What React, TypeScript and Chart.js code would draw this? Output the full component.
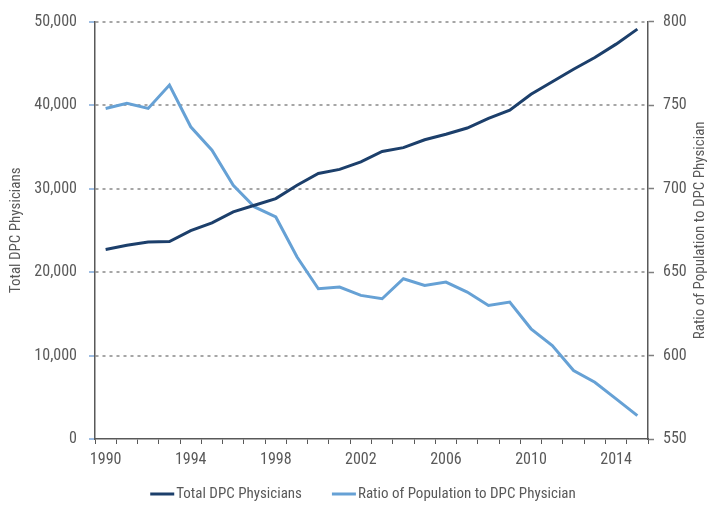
import React, { useEffect, useRef } from "react";
import { Chart, registerables } from "chart.js";

Chart.register(...registerables);

const years = [
  "1990", "1991", "1992", "1993", "1994", "1995", "1996", "1997", "1998", "1999",
  "2000", "2001", "2002", "2003", "2004", "2005", "2006", "2007", "2008", "2009",
  "2010", "2011", "2012", "2013", "2014", "2015",
];
const xTickLabels = ["1990", "1994", "1998", "2002", "2006", "2010", "2014"];
const totalDPC = [
  22700, 23200, 23600, 23650, 24950, 25900, 27200, 28000, 28800, 30400,
  31800, 32300, 33200, 34450, 34900, 35850, 36500, 37250, 38400, 39400,
  41300, 42800, 44300, 45700, 47300, 49100,
];
const ratio = [
  748, 751, 748, 762, 737, 723, 702, 689, 683, 659,
  640, 641, 636, 634, 646, 642, 644, 638, 630, 632,
  616, 606, 591, 584, 574, 564,
];
const seriesNames = ["Total DPC Physicians", "Ratio of Population to DPC Physician"];
const leftTitle = "Total DPC Physicians";
const rightTitle = "Ratio of Population to DPC Physician";

const FONT = "'Roboto Condensed', 'DejaVu Sans Condensed', sans-serif";
const TEXT = "#595959";
const DARK = "#1c3f6b";
const LIGHT = "#66a1d5";

const decorPlugin = {
  id: "decor",
  afterDraw(chart: any) {
    const ctx = chart.ctx;
    const area = chart.chartArea;
    ctx.save();
    // right axis title, reading bottom to top
    ctx.save();
    ctx.translate(700, (area.top + area.bottom) / 2);
    ctx.rotate(-Math.PI / 2);
    ctx.font = `15px ${FONT}`;
    ctx.fillStyle = TEXT;
    ctx.textAlign = "center";
    ctx.textBaseline = "middle";
    ctx.fillText(rightTitle, 0, 0);
    ctx.restore();

    // legend
    const ds = chart.data.datasets;
    ctx.font = `15px ${FONT}`;
    const marker = 24;
    const gap = 2;
    const spacing = 30;
    const widths = ds.map((d: any) => ctx.measureText(d.label).width);
    const itemW = widths.map((w: number) => marker + gap + w);
    const total = itemW.reduce((a: number, b: number) => a + b, 0) + spacing * (ds.length - 1);
    let x = 363 - total / 2;
    const y = 494;
    ds.forEach((d: any, i: number) => {
      ctx.strokeStyle = d.borderColor;
      ctx.lineWidth = 3;
      ctx.beginPath();
      ctx.moveTo(x, y);
      ctx.lineTo(x + marker, y);
      ctx.stroke();
      ctx.fillStyle = TEXT;
      ctx.textAlign = "left";
      ctx.textBaseline = "middle";
      ctx.fillText(d.label, x + marker + gap, y);
      x += itemW[i] + spacing;
    });
    ctx.restore();
  },
};

export default function App() {
  const ref = useRef<HTMLCanvasElement>(null);
  useEffect(() => {
    if (!ref.current) return;
    const chart = new Chart(ref.current, {
      type: "line",
      data: {
        labels: years,
        datasets: [
          {
            label: seriesNames[0],
            data: totalDPC,
            borderColor: DARK,
            backgroundColor: DARK,
            borderWidth: 3,
            pointRadius: 0,
            tension: 0,
            yAxisID: "y",
          },
          {
            label: seriesNames[1],
            data: ratio,
            borderColor: LIGHT,
            backgroundColor: LIGHT,
            borderWidth: 3,
            pointRadius: 0,
            tension: 0,
            yAxisID: "y1",
          },
        ],
      },
      options: {
        animation: false,
        responsive: true,
        maintainAspectRatio: false,
        layout: { padding: { left: 0, right: 0, top: 18, bottom: 36 } },
        plugins: {
          tooltip: { enabled: false },
          legend: { display: false },
        },
        scales: {
          x: {
            offset: true,
            grid: {
              display: true,
              offset: true,
              drawOnChartArea: false,
              tickLength: 5,
              color: TEXT,
              lineWidth: 1,
            },
            border: { display: true, color: TEXT, width: 1.5 },
            ticks: {
              autoSkip: false,
              maxRotation: 0,
              padding: 6,
              color: TEXT,
              font: { family: FONT, size: 16 },
              callback: function (this: any, value: any, index: number) {
                const lbl = years[index];
                return xTickLabels.includes(lbl) ? lbl : "";
              },
            },
            afterFit: (s: any) => {
              s.height = 31;
            },
          },
          y: {
            position: "left",
            min: 0,
            max: 50000,
            ticks: {
              stepSize: 10000,
              padding: 12,
              color: TEXT,
              font: { family: FONT, size: 16 },
              callback: (v: any) => Number(v).toLocaleString("en-US"),
            },
            grid: {
              color: (c: any) => (c.tick && c.tick.value === 0 ? "rgba(0,0,0,0)" : "#a6a6a6"),
              lineWidth: 2,
              tickLength: 6,
              tickColor: "#7fa8da",
              tickWidth: 1.5,
            },
            border: { display: true, color: TEXT, width: 1.5, dash: [3, 4] },
            title: {
              display: true,
              text: leftTitle,
              color: TEXT,
              font: { family: FONT, size: 15 },
              padding: { top: 7, bottom: 0 },
            },
            afterFit: (s: any) => {
              s.width = 95;
            },
          },
          y1: {
            position: "right",
            min: 550,
            max: 800,
            ticks: {
              stepSize: 50,
              padding: 9,
              color: TEXT,
              font: { family: FONT, size: 16 },
            },
            grid: {
              drawOnChartArea: false,
              tickLength: 6,
              color: "#7f7f7f",
              tickWidth: 1.5,
            },
            border: { display: true, color: TEXT, width: 1.5 },
            afterFit: (s: any) => {
              s.width = 60;
            },
          },
        },
      },
      plugins: [decorPlugin],
    } as any);
    return () => chart.destroy();
  }, []);
  return (
    <div style={{ position: "fixed", left: 0, top: 0, width: 708, height: 506, background: "#fff" }}>
      <canvas ref={ref} />
    </div>
  );
}
